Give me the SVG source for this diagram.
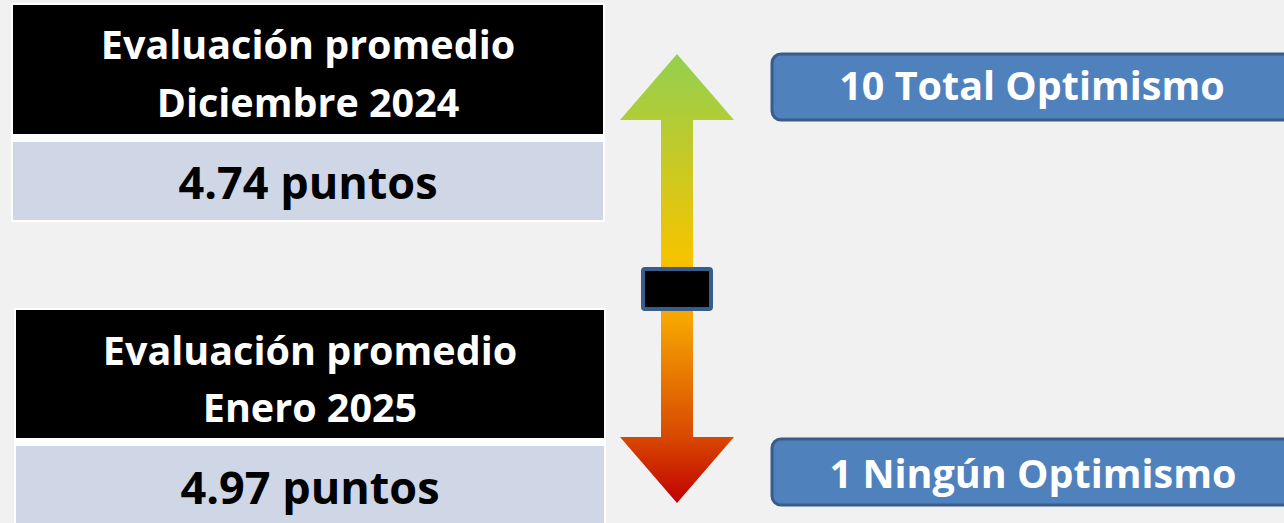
<svg xmlns="http://www.w3.org/2000/svg" width="1284" height="523" viewBox="0 0 1284 523">
<defs>
<style>
.hd{font-family:"Open Sans",Lato,sans-serif;font-weight:700;font-size:39.5px;fill:#fff;text-anchor:middle}
.val{font-family:"Open Sans",Lato,sans-serif;font-weight:700;font-size:45px;fill:#000;text-anchor:middle}
.lbl{font-family:"Open Sans",Lato,sans-serif;font-weight:700;font-size:39.5px;fill:#fff;text-anchor:middle}
.bx{fill:#4f81bd;stroke:#385d8a;stroke-width:3}
</style>
<linearGradient id="g" x1="0" y1="54" x2="0" y2="503" gradientUnits="userSpaceOnUse">
<stop offset="0" stop-color="#92d050"/>
<stop offset="0.45" stop-color="#f5c400"/>
<stop offset="0.6" stop-color="#f5a200"/>
<stop offset="0.85" stop-color="#d94a00"/>
<stop offset="1" stop-color="#c00000"/>
</linearGradient>
</defs>
<rect width="1284" height="523" fill="#f1f1f1"/>
<g id="dic2024">
<rect x="11" y="3" width="594" height="219" fill="#fff"/>
<rect x="13" y="5" width="590" height="129" fill="#000"/>
<rect x="13" y="142" width="590" height="78" fill="#cfd6e6"/>
<text class="hd" x="308" y="59">Evaluación promedio</text>
<text class="hd" x="308" y="117">Diciembre 2024</text>
<text class="val" x="308" y="199">4.74 puntos</text>
</g>
<g id="ene2025">
<rect x="14" y="308" width="592" height="215" fill="#fff"/>
<rect x="16" y="310" width="588" height="128" fill="#000"/>
<rect x="16" y="446" width="588" height="77" fill="#cfd6e6"/>
<text class="hd" x="310" y="365">Evaluación promedio</text>
<text class="hd" x="310" y="422">Enero 2025</text>
<text class="val" x="310" y="504">4.97 puntos</text>
</g>
<g id="connectors">
<path d="M677,54 L734,120 L693,120 L693,437 L734,437 L677,503 L620,437 L661,437 L661,120 L620,120 Z" fill="url(#g)"/>
</g>
<g id="marker">
<rect x="643" y="269" width="68" height="40" rx="2" fill="#000" stroke="#385d8a" stroke-width="4"/>
</g>
<g id="max">
<rect class="bx" x="772" y="54" width="530" height="66" rx="9"/>
<text class="lbl" x="1032" y="100">10 Total Optimismo</text>
</g>
<g id="min">
<rect class="bx" x="772" y="439" width="530" height="66" rx="9"/>
<text class="lbl" x="1033" y="488">1 Ningún Optimismo</text>
</g>
</svg>
